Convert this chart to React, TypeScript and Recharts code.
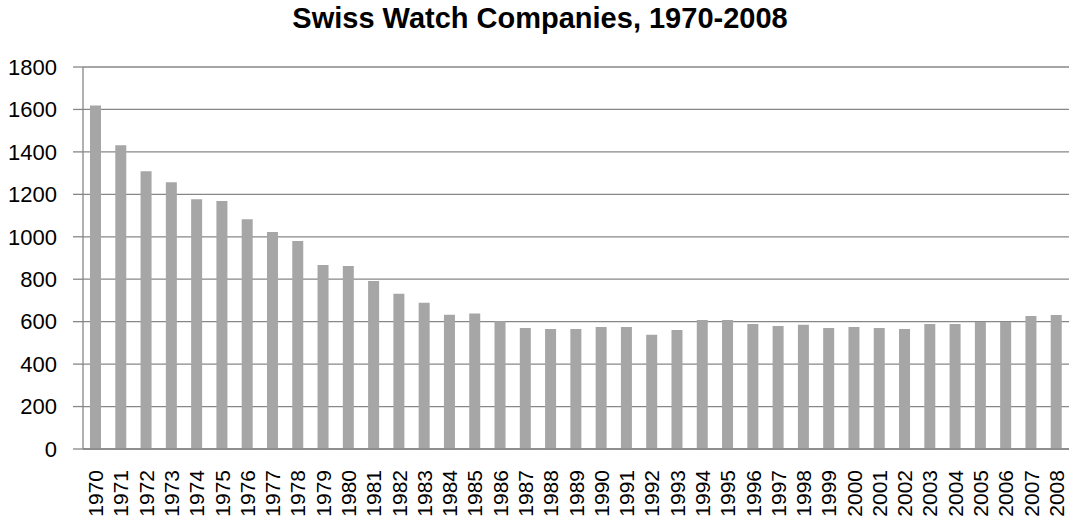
import { Bar, BarChart, CartesianGrid, XAxis, YAxis } from 'recharts'

const years = [
  '1970', '1971', '1972', '1973', '1974', '1975', '1976', '1977', '1978', '1979',
  '1980', '1981', '1982', '1983', '1984', '1985', '1986', '1987', '1988', '1989',
  '1990', '1991', '1992', '1993', '1994', '1995', '1996', '1997', '1998', '1999',
  '2000', '2001', '2002', '2003', '2004', '2005', '2006', '2007', '2008',
]

const companies = [
  1618, 1431, 1309, 1257, 1177, 1168, 1083, 1022, 980, 867,
  862, 792, 731, 689, 633, 638, 602, 570, 565, 565,
  575, 575, 538, 561, 608, 608, 589, 580, 585, 570,
  575, 570, 565, 589, 589, 599, 599, 627, 632,
]

const yTicks = [0, 200, 400, 600, 800, 1000, 1200, 1400, 1600, 1800]

const data = years.map((year, i) => ({ year, companies: companies[i] }))

const gridColor = '#878787'
const font = '"Liberation Sans", Arial, sans-serif'

function YearTick({ x, y, payload }: any) {
  return (
    <text
      x={x}
      y={y + 19}
      transform={`rotate(-90 ${x} ${y + 19})`}
      textAnchor="end"
      dy="0.36em"
      fontSize={21}
      fontFamily={font}
      fill="#000"
    >
      {payload.value}
    </text>
  )
}

export default function App() {
  return (
    <div
      style={{
        position: 'absolute',
        left: 0,
        top: 0,
        width: 1070,
        height: 520,
        background: '#fff',
        overflow: 'hidden',
      }}
    >
      <div
        style={{
          position: 'absolute',
          top: 2,
          left: 0,
          width: 1080,
          textAlign: 'center',
          fontFamily: font,
          fontWeight: 'bold',
          fontSize: 29,
          color: '#000',
        }}
      >
        Swiss Watch Companies, 1970-2008
      </div>
      <BarChart
        width={1070}
        height={520}
        data={data}
        margin={{ top: 67, right: 1, bottom: 0, left: 0 }}
        barSize={11}
      >
        <CartesianGrid
          vertical={false}
          stroke={gridColor}
          strokeWidth={1.3}
        />
        <XAxis
          dataKey="year"
          height={71}
          interval={0}
          tickLine={false}
          tickSize={0}
          axisLine={{ stroke: gridColor, strokeWidth: 1.3 }}
          tick={<YearTick />}
        />
        <YAxis
          width={83}
          domain={[0, 1800]}
          ticks={yTicks}
          interval={0}
          tickSize={10}
          tickMargin={16}
          tickLine={{ stroke: gridColor, strokeWidth: 1.3 }}
          axisLine={{ stroke: gridColor, strokeWidth: 1.3 }}
          tick={{ fontSize: 22, fontFamily: font, fill: '#000' }}
        />
        <Bar dataKey="companies" fill="#a6a6a6" isAnimationActive={false} />
      </BarChart>
    </div>
  )
}
